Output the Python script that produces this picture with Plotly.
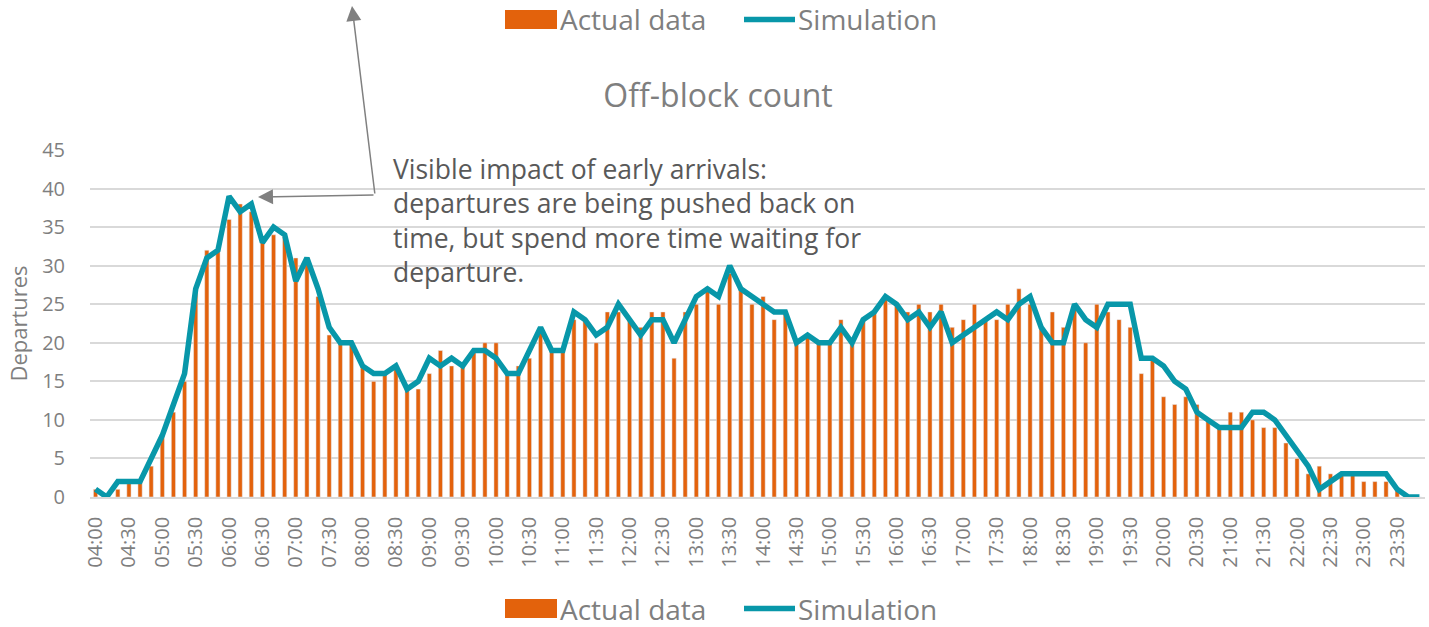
import plotly.graph_objects as go

# 10-minute slots from 04:00 to 23:50
times = [f"{h:02d}:{m:02d}" for h in range(4, 24) for m in range(0, 60, 10)]

actual = [1, 0, 1, 2, 2, 4, 8, 11, 15, 27, 32, 32, 36, 38, 37, 33, 34, 34, 31, 31, 26, 21, 20, 20,
          17, 15, 16, 17, 14, 14, 16, 19, 17, 17, 19, 20, 20, 16, 17, 18, 22, 19, 19, 23, 23, 20, 24, 24,
          23, 22, 24, 24, 18, 24, 25, 27, 25, 29, 27, 25, 26, 23, 24, 20, 21, 20, 20, 23, 20, 23, 24, 26,
          25, 24, 25, 24, 25, 22, 23, 25, 23, 23, 25, 27, 25, 22, 24, 22, 25, 20, 25, 24, 23, 22, 16, 18,
          13, 12, 13, 12, 10, 9, 11, 11, 10, 9, 9, 7, 5, 3, 4, 3, 3, 3, 2, 2, 2, 1, 0, 0]

simulation = [1, 0, 2, 2, 2, 5, 8, 12, 16, 27, 31, 32, 39, 37, 38, 33, 35, 34, 28, 31, 27, 22, 20, 20,
              17, 16, 16, 17, 14, 15, 18, 17, 18, 17, 19, 19, 18, 16, 16, 19, 22, 19, 19, 24, 23, 21, 22, 25,
              23, 21, 23, 23, 20, 23, 26, 27, 26, 30, 27, 26, 25, 24, 24, 20, 21, 20, 20, 22, 20, 23, 24, 26,
              25, 23, 24, 22, 24, 20, 21, 22, 23, 24, 23, 25, 26, 22, 20, 20, 25, 23, 22, 25, 25, 25, 18, 18,
              17, 15, 14, 11, 10, 9, 9, 9, 11, 11, 10, 8, 6, 4, 1, 2, 3, 3, 3, 3, 3, 1, 0, 0]

tick_labels = times[::3]
y_ticks = [0, 5, 10, 15, 20, 25, 30, 35, 40, 45]
series_names = ["Actual data", "Simulation"]
note_text = ("Visible impact of early arrivals:<br>departures are being pushed back on<br>"
             "time, but spend more time waiting for<br>departure.")

ORANGE = "#E3620C"
TEAL = "#0897A9"
GRAY = "#7F7F7F"
FONT = "Open Sans"

# plot-area geometry in pixels (for placing decorations in paper coords)
W, H = 1429, 627
L, R, T, B = 90, 4, 150, 130
PW, PH = W - L - R, H - T - B


def px(x):
    return (x - L) / PW


def py(y):
    return (H - B - y) / PH


fig = go.Figure()
fig.add_trace(go.Bar(x=times, y=actual, name=series_names[0], marker_color=ORANGE,
                     width=0.38, showlegend=False))
fig.add_trace(go.Scatter(x=times, y=simulation, name=series_names[1], mode="lines",
                         line=dict(color=TEAL, width=5.5), showlegend=False))

shapes = []
annotations = []

# legends (top and bottom), drawn as swatches + text
for yc in (19.5, 608.5):
    shapes.append(dict(type="rect", xref="paper", yref="paper", x0=px(505), x1=px(557),
                       y0=py(yc + 9.5), y1=py(yc - 9.5), fillcolor=ORANGE, line=dict(width=0)))
    shapes.append(dict(type="line", xref="paper", yref="paper", x0=px(744), x1=px(795),
                       y0=py(yc), y1=py(yc), line=dict(color=TEAL, width=5.5)))
    annotations.append(dict(text=series_names[0], xref="paper", yref="paper", x=px(559), y=py(yc),
                            xanchor="left", yanchor="middle", showarrow=False, borderpad=0,
                            font=dict(family=FONT, size=28, color=GRAY)))
    annotations.append(dict(text=series_names[1], xref="paper", yref="paper", x=px(797), y=py(yc),
                            xanchor="left", yanchor="middle", showarrow=False, borderpad=0,
                            font=dict(family=FONT, size=28, color=GRAY)))

# explanatory note
annotations.append(dict(text=note_text, xref="paper", yref="paper", x=px(391), y=py(220),
                        xanchor="left", yanchor="middle", align="left", showarrow=False,
                        font=dict(family=FONT, size=26.5, color="#595959")))

# arrows
annotations.append(dict(text="", xref="paper", yref="paper", x=px(258), y=py(197), ax=117, ay=-2,
                        axref="pixel", ayref="pixel", showarrow=True, arrowhead=2, arrowsize=2,
                        arrowwidth=1.5, arrowcolor="#808080"))
annotations.append(dict(text="", xref="paper", yref="paper", x=px(352), y=py(6), ax=23, ay=189,
                        axref="pixel", ayref="pixel", showarrow=True, arrowhead=2, arrowsize=2,
                        arrowwidth=1.5, arrowcolor="#808080"))

fig.update_layout(
    width=W, height=H,
    margin=dict(l=L, r=R, t=T, b=B, autoexpand=False),
    paper_bgcolor="white", plot_bgcolor="white",
    font=dict(family=FONT, color=GRAY),
    title=dict(text="Off-block count", x=718 / W, xref="container", xanchor="center",
               y=1 - 96 / H, yanchor="middle",
               font=dict(family=FONT, size=32, color=GRAY)),
    showlegend=False,
    xaxis=dict(type="category", tickmode="array", tickvals=tick_labels, ticktext=tick_labels,
               tickangle=-90, tickfont=dict(family=FONT, size=20, color=GRAY),
               showgrid=False, showline=True, linecolor="#D9D9D9", linewidth=1.5,
               ticks="outside", ticklen=10, tickcolor="rgba(0,0,0,0)", automargin=False),
    yaxis=dict(range=[0, 45], tickvals=y_ticks, tickfont=dict(family=FONT, size=20, color=GRAY),
               showgrid=True, gridcolor="#D9D9D9", gridwidth=1.5, zeroline=False,
               ticks="outside", ticklen=20, tickcolor="rgba(0,0,0,0)", automargin=False,
               title=dict(text="Departures", font=dict(family=FONT, size=22, color=GRAY), standoff=8)),
    shapes=shapes,
    annotations=annotations,
)

fig.write_html("out.html", config={"displayModeBar": False},
               post_script="document.body.style.margin='0';document.body.style.overflow='hidden';")
